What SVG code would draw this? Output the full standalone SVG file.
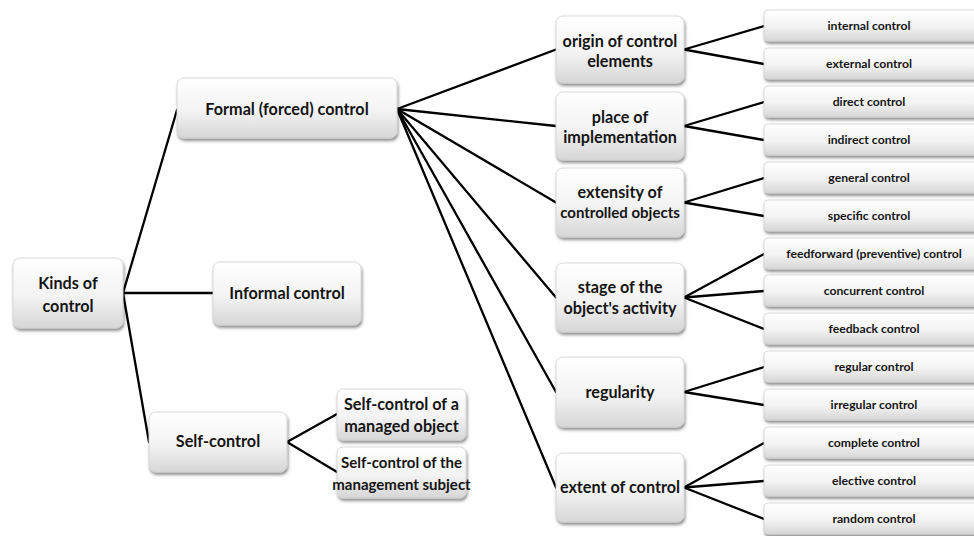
<svg xmlns="http://www.w3.org/2000/svg" width="974" height="536" viewBox="0 0 974 536">
<defs>
<linearGradient id="g" x1="0" y1="0" x2="0" y2="1">
<stop offset="0" stop-color="#ffffff"/>
<stop offset="0.55" stop-color="#f3f3f3"/>
<stop offset="1" stop-color="#d6d6d6"/>
</linearGradient>
<filter id="sh" x="-10%" y="-20%" width="125%" height="150%">
<feDropShadow dx="1" dy="2.5" stdDeviation="1.6" flood-color="#000" flood-opacity="0.45"/>
</filter>
</defs>
<style>
.box{fill:url(#g);stroke:#d0d0d0;stroke-width:0.8;filter:url(#sh)}
.t{font-family:Lato,"Liberation Sans",sans-serif;font-weight:bold;fill:#151515;text-anchor:middle}
.big{font-size:16.2px}
.nar{font-size:15px}
.sm{font-size:12.2px}
.c line{stroke:#000;stroke-width:2.3;stroke-linecap:round}
</style>
<rect width="974" height="536" fill="#fff"/>
<g class="c" id="connectors">
<line x1="123" y1="293" x2="177" y2="110"/>
<line x1="123" y1="293" x2="213" y2="293"/>
<line x1="123" y1="293" x2="149" y2="442"/>
<line x1="287" y1="442" x2="337" y2="414"/>
<line x1="287" y1="442" x2="337" y2="472"/>
<line x1="397" y1="109" x2="556" y2="49.5"/>
<line x1="397" y1="109" x2="556" y2="126"/>
<line x1="397" y1="109" x2="556" y2="202.5"/>
<line x1="397" y1="109" x2="556" y2="297.5"/>
<line x1="397" y1="109" x2="556" y2="392"/>
<line x1="397" y1="109" x2="556" y2="487.5"/>
<line x1="684" y1="49.5" x2="764" y2="26"/>
<line x1="684" y1="49.5" x2="764" y2="64"/>
<line x1="684" y1="126" x2="764" y2="102"/>
<line x1="684" y1="126" x2="764" y2="140"/>
<line x1="684" y1="202.5" x2="764" y2="178"/>
<line x1="684" y1="202.5" x2="764" y2="216"/>
<line x1="684" y1="297.5" x2="764" y2="254"/>
<line x1="684" y1="297.5" x2="764" y2="291"/>
<line x1="684" y1="297.5" x2="764" y2="329"/>
<line x1="684" y1="392" x2="764" y2="367"/>
<line x1="684" y1="392" x2="764" y2="405"/>
<line x1="684" y1="487.5" x2="764" y2="443"/>
<line x1="684" y1="487.5" x2="764" y2="481"/>
<line x1="684" y1="487.5" x2="764" y2="519"/>
</g>
<g id="kinds"><rect class="box" x="13" y="258" width="110" height="70" rx="7"/><text class="t big" x="68" y="289">Kinds of</text><text class="t big" x="68" y="312">control</text></g>
<g id="formal"><rect class="box" x="177" y="78" width="220" height="60" rx="7"/><text class="t big" x="287" y="115">Formal (forced) control</text></g>
<g id="informal"><rect class="box" x="213" y="262" width="148" height="63" rx="7"/><text class="t big" x="287" y="299">Informal control</text></g>
<g id="self"><rect class="box" x="149" y="412" width="138" height="60" rx="7"/><text class="t big" x="218" y="447">Self-control</text></g>
<g id="self-obj"><rect class="box" x="337" y="389" width="129" height="51" rx="6"/><text class="t big" x="401.5" y="410">Self-control of a</text><text class="t big" x="401.5" y="432">managed object</text></g>
<g id="self-subj"><rect class="box" x="337" y="447" width="129" height="51" rx="6"/><text class="t nar" x="401.5" y="468">Self-control of the</text><text class="t nar" x="401.5" y="490">management subject</text></g>
<g id="origin"><rect class="box" x="556" y="16" width="128" height="67" rx="7"/><text class="t big" x="620" y="47">origin of control</text><text class="t big" x="620" y="67">elements</text></g>
<g id="place"><rect class="box" x="556" y="92" width="128" height="68" rx="7"/><text class="t big" x="620" y="123">place of</text><text class="t big" x="620" y="143">implementation</text></g>
<g id="extensity"><rect class="box" x="556" y="168" width="128" height="69" rx="7"/><text class="t big" x="620" y="198">extensity of</text><text class="t nar" x="620" y="218">controlled objects</text></g>
<g id="stage"><rect class="box" x="556" y="263" width="128" height="69" rx="7"/><text class="t big" x="620" y="293">stage of the</text><text class="t big" x="620" y="314">object's activity</text></g>
<g id="regularity"><rect class="box" x="556" y="357" width="128" height="70" rx="7"/><text class="t big" x="620" y="398">regularity</text></g>
<g id="extent"><rect class="box" x="556" y="453" width="128" height="69" rx="7"/><text class="t big" x="620" y="493">extent of control</text></g>
<g id="r1"><rect class="box" x="764" y="10" width="222" height="31" rx="4"/><text class="t sm" x="869" y="30">internal control</text></g>
<g id="r2"><rect class="box" x="764" y="48" width="222" height="31" rx="4"/><text class="t sm" x="869" y="68">external control</text></g>
<g id="r3"><rect class="box" x="764" y="86" width="222" height="31" rx="4"/><text class="t sm" x="869" y="106">direct control</text></g>
<g id="r4"><rect class="box" x="764" y="124" width="222" height="31" rx="4"/><text class="t sm" x="869" y="144">indirect control</text></g>
<g id="r5"><rect class="box" x="764" y="162" width="222" height="31" rx="4"/><text class="t sm" x="869" y="182">general control</text></g>
<g id="r6"><rect class="box" x="764" y="200" width="222" height="31" rx="4"/><text class="t sm" x="869" y="220">specific control</text></g>
<g id="r7"><rect class="box" x="764" y="238" width="222" height="31" rx="4"/><text class="t sm" x="874" y="258">feedforward (preventive) control</text></g>
<g id="r8"><rect class="box" x="764" y="275" width="222" height="31" rx="4"/><text class="t sm" x="874" y="295">concurrent control</text></g>
<g id="r9"><rect class="box" x="764" y="313" width="222" height="31" rx="4"/><text class="t sm" x="874" y="333">feedback control</text></g>
<g id="r10"><rect class="box" x="764" y="351" width="222" height="31" rx="4"/><text class="t sm" x="874" y="371">regular control</text></g>
<g id="r11"><rect class="box" x="764" y="389" width="222" height="31" rx="4"/><text class="t sm" x="874" y="409">irregular control</text></g>
<g id="r12"><rect class="box" x="764" y="427" width="222" height="31" rx="4"/><text class="t sm" x="874" y="447">complete control</text></g>
<g id="r13"><rect class="box" x="764" y="465" width="222" height="31" rx="4"/><text class="t sm" x="874" y="485">elective control</text></g>
<g id="r14"><rect class="box" x="764" y="503" width="222" height="31" rx="4"/><text class="t sm" x="874" y="523">random control</text></g>
</svg>
